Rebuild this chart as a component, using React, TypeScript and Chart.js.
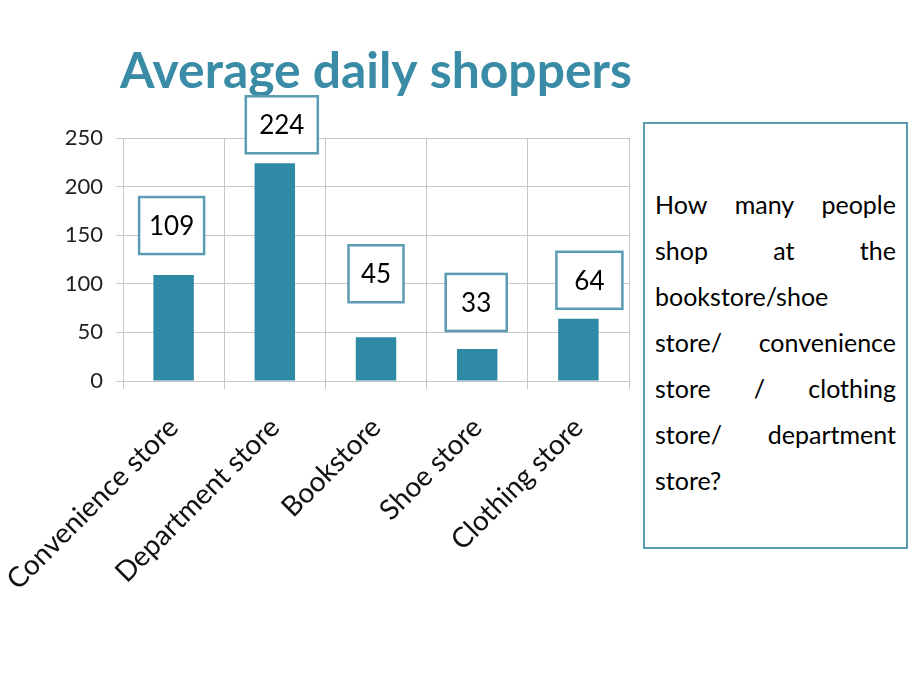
import React, { useEffect, useRef } from "react";
import { Chart, registerables } from "chart.js";

Chart.register(...registerables);

// ---- data ----
const categories = ["Convenience store", "Department store", "Bookstore", "Shoe store", "Clothing store"];
const shoppers = [109, 224, 45, 33, 64];
const yMin = 0;
const yMax = 250;
const yStep = 50;
const titleText = "Average daily shoppers";
const questionLines = [
  ["How", "many", "people"],
  ["shop", "at", "the"],
  ["bookstore/shoe"],
  ["store/", "convenience"],
  ["store", "/", "clothing"],
  ["store/", "department"],
  ["store?"],
];

// ---- annotation layout (px) ----
const boxLift = [21, 10, 35, 18, 10];
const boxShift = [-2, 7, 0, -1, 11];
const boxWidth = [65, 72, 55, 61, 66];

const BAR = "#2f8ba5";
const TEAL_LINE = "#5a9cb1";
const TITLE = "#3a8ba5";
const GRID = "#c6c6c6";

const titlePlugin = {
  id: "titleDraw",
  beforeDraw(chart: any) {
    const ctx = chart.ctx;
    ctx.save();
    const fam = '"Comic Sans MS", Lato, sans-serif';
    ctx.font = `bold 46px ${fam}`;
    const w = ctx.measureText(titleText).width;
    const size = (46 * 512) / w;
    ctx.font = `bold ${size}px ${fam}`;
    ctx.fillStyle = TITLE;
    ctx.textAlign = "center";
    ctx.textBaseline = "alphabetic";
    ctx.fillText(titleText, 376, 88);
    ctx.restore();
  },
};

const boxPlugin = {
  id: "valueBoxes",
  afterDatasetsDraw(chart: any) {
    const ctx = chart.ctx;
    const meta = chart.getDatasetMeta(0);
    ctx.save();
    ctx.font = "26px Lato, sans-serif";
    meta.data.forEach((bar: any, i: number) => {
      const txt = String(shoppers[i]);
      const w = boxWidth[i];
      const h = 57;
      const cx = bar.x + boxShift[i];
      const bottom = bar.y - boxLift[i];
      ctx.fillStyle = "#ffffff";
      ctx.fillRect(cx - w / 2, bottom - h, w, h);
      ctx.strokeStyle = TEAL_LINE;
      ctx.lineWidth = 2.5;
      ctx.strokeRect(cx - w / 2, bottom - h, w, h);
      ctx.fillStyle = "#000000";
      ctx.textAlign = "center";
      ctx.textBaseline = "middle";
      ctx.fillText(txt, cx, bottom - h / 2 + 1);
    });
    ctx.restore();
  },
};

export default function App() {
  const ref = useRef<HTMLCanvasElement | null>(null);

  useEffect(() => {
    if (!ref.current) return;
    const chart = new Chart(ref.current, {
      type: "bar",
      data: {
        labels: categories,
        datasets: [
          {
            data: shoppers,
            backgroundColor: BAR,
            borderWidth: 0,
            categoryPercentage: 1,
            barPercentage: 0.4,
          },
        ],
      },
      options: {
        animation: false,
        responsive: true,
        maintainAspectRatio: false,
        layout: { padding: { top: 138, right: 291, left: 0, bottom: 0 } },
        plugins: { legend: { display: false }, title: { display: false }, tooltip: { enabled: false } },
        scales: {
          x: {
            grid: { offset: true, color: GRID, tickLength: 8, drawTicks: true },
            border: { color: GRID },
            ticks: {
              autoSkip: false,
              minRotation: 45,
              maxRotation: 45,
              color: "#111",
              padding: 22,
              font: { family: "Lato, sans-serif", size: 28 },
            },
            afterFit: (s: any) => {
              s.height = 309;
              s.paddingLeft = 0;
              s.paddingRight = 0;
            },
          },
          y: {
            min: yMin,
            max: yMax,
            grid: { color: GRID, tickLength: 7 },
            border: { color: GRID },
            ticks: {
              stepSize: yStep,
              color: "#222",
              padding: 13,
              font: { family: "Lato, sans-serif", size: 22 },
            },
            afterFit: (s: any) => {
              s.width = 123;
            },
          },
        },
      },
      plugins: [titlePlugin, boxPlugin],
    });
    return () => chart.destroy();
  }, []);

  return (
    <div style={{ position: "fixed", left: 0, top: 0, width: 920, height: 690, background: "#fff" }}>
      <canvas ref={ref} style={{ position: "absolute", left: 0, top: 0 }} />
      <div
        style={{
          position: "absolute",
          left: 643,
          top: 122,
          width: 265,
          height: 427,
          boxSizing: "border-box",
          border: `2.5px solid ${TEAL_LINE}`,
          background: "#fff",
          display: "flex",
          flexDirection: "column",
          justifyContent: "center",
          padding: "12px 10px 0 10px",
          fontFamily: '"Comic Sans MS", Lato, sans-serif',
          fontSize: 25,
          color: "#000",
        }}
      >
        {questionLines.map((words, i) => (
          <div
            key={i}
            style={{
              display: "flex",
              justifyContent: words.length > 1 ? "space-between" : "flex-start",
              lineHeight: "46px",
              height: 46,
            }}
          >
            {words.map((w, j) => (
              <span key={j}>{w}</span>
            ))}
          </div>
        ))}
      </div>
    </div>
  );
}
